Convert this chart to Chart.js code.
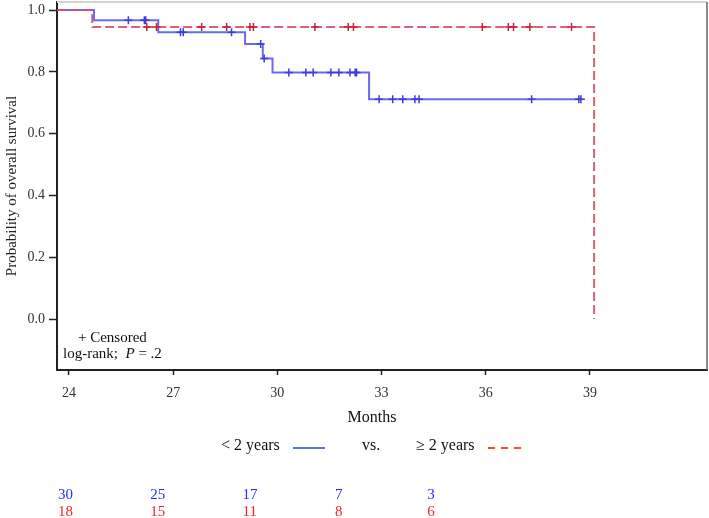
<!DOCTYPE html>
<html>
<head>
<meta charset="utf-8">
<script src="https://cdn.jsdelivr.net/npm/chart.js@4.4.1/dist/chart.umd.min.js"></script>
<style>
  html, body { margin: 0; padding: 0; background: #fff; }
  .container { width: 709px; height: 518px; }
</style>
</head>
<body>
<div class="container"><canvas id="km" width="709" height="518"></canvas></div>
<script>
// Kaplan-Meier steps: time of each drop and survival after it
var lessTimes = [23.66, 24.72, 26.57, 29.07, 29.58, 29.86, 32.64, 38.74];
var lessSurv  = [1.0, 0.967, 0.928, 0.890, 0.843, 0.798, 0.711, 0.711];
var moreTimes = [23.66, 24.67, 39.12, 39.12];
var moreSurv  = [1.0, 0.945, 0.945, 0.0];

// censored times
var lessCensor = [25.71, 26.17, 26.21, 27.21, 27.29, 28.68, 29.52, 29.62,
                  30.33, 30.82, 31.03, 31.54, 31.77, 32.09, 32.24, 32.28,
                  32.93, 33.32, 33.61, 33.96, 34.08, 37.32, 38.68, 38.74];
var moreCensor = [26.24, 26.52, 27.82, 28.54, 29.21, 29.31, 31.08, 32.04,
                  32.19, 35.90, 36.65, 36.80, 37.27, 38.47];

var xTicks = [24, 27, 30, 33, 36, 39];
var yTicks = [0, 0.2, 0.4, 0.6, 0.8, 1.0];

var atRiskLess = [30, 25, 17, 7, 3];
var atRiskMore = [18, 15, 11, 8, 6];

function steps(times, surv) {
    return times.map((t, i) => ({ x: t, y: surv[i] }));
}

// survival level at time t from the step curve
function level(times, surv, t) {
    var s = surv[0];
    for (var i = 0; i < times.length; i++) {
        if (times[i] <= t) s = surv[i];
    }
    return s;
}

function censorPoints(cens, times, surv) {
    return cens.map(t => ({ x: t, y: level(times, surv, t) }));
}

var serif = "'Liberation Serif', 'DejaVu Serif', serif";

function noPad(s) {
    s.paddingTop = 0;
    s.paddingBottom = 0;
    s.paddingLeft = 0;
    s.paddingRight = 0;
}

var overlay = {
    id: 'overlay',
    beforeDatasetsDraw(chart) {
        var ctx = chart.ctx, a = chart.chartArea;
        ctx.save();
        ctx.strokeStyle = '#d4d4d4';
        ctx.lineWidth = 2;
        ctx.beginPath();
        ctx.moveTo(a.left, a.top);
        ctx.lineTo(a.right, a.top);
        ctx.stroke();
        ctx.strokeStyle = '#666';
        ctx.lineWidth = 1.5;
        ctx.beginPath();
        ctx.moveTo(a.right, a.top);
        ctx.lineTo(a.right, a.bottom);
        ctx.stroke();
        ctx.restore();
    },
    afterDraw(chart) {
        var ctx = chart.ctx, a = chart.chartArea;
        ctx.save();
        ctx.textBaseline = 'middle';
        ctx.fillStyle = '#111';

        // censored note and log-rank
        ctx.font = '15px ' + serif;
        ctx.textAlign = 'left';
        ctx.fillText('+ Censored', a.left + 21, 338);
        ctx.fillText('log-rank;', a.left + 6, 354);
        var w = ctx.measureText('log-rank;  ').width;
        ctx.font = 'italic 15px ' + serif;
        ctx.fillText('P', a.left + 6 + w, 354);
        var w2 = ctx.measureText('P').width;
        ctx.font = '15px ' + serif;
        ctx.fillText(' = .2', a.left + 6 + w + w2, 354);

        // x title
        ctx.textAlign = 'center';
        ctx.font = '16px ' + serif;
        ctx.fillText('Months', 372, 418);

        // legend
        ctx.textAlign = 'left';
        ctx.fillText('< 2 years', 221, 446);
        ctx.fillText('vs.', 362, 446);
        ctx.fillText('\u2265 2 years', 416, 446);
        ctx.strokeStyle = '#5577ee';
        ctx.lineWidth = 2;
        ctx.beginPath();
        ctx.moveTo(293, 448);
        ctx.lineTo(325, 448);
        ctx.stroke();
        ctx.strokeStyle = '#ff4444';
        ctx.setLineDash([7, 6]);
        ctx.beginPath();
        ctx.moveTo(488, 448);
        ctx.lineTo(522, 448);
        ctx.stroke();
        ctx.setLineDash([]);

        // numbers at risk
        ctx.font = '15px ' + serif;
        atRiskLess.forEach((n, i) => {
            ctx.fillStyle = '#2a2aff';
            ctx.fillText(String(n), 58 + i * 92.3, 495);
            ctx.fillStyle = '#ff2222';
            ctx.fillText(String(atRiskMore[i]), 58 + i * 92.3, 512);
        });
        ctx.restore();
    }
};

var ctx = document.getElementById('km').getContext('2d');
new Chart(ctx, {
    type: 'scatter',
    data: {
        datasets: [
            {
                label: 'censor >= 2',
                data: censorPoints(moreCensor, moreTimes, moreSurv),
                showLine: false,
                pointStyle: 'cross',
                pointRadius: 4,
                borderColor: '#c8203c',
                borderWidth: 1.5
            },
            {
                label: 'censor < 2',
                data: censorPoints(lessCensor, lessTimes, lessSurv),
                showLine: false,
                pointStyle: 'cross',
                pointRadius: 4,
                borderColor: '#3c3ce0',
                borderWidth: 1.5
            },
            {
                label: '\u2265 2 years',
                data: steps(moreTimes, moreSurv),
                showLine: true,
                stepped: 'before',
                borderColor: 'rgba(214, 80, 104, 0.9)',
                borderWidth: 2,
                borderDash: [9, 4],
                pointRadius: 0,
                fill: false
            },
            {
                label: '< 2 years',
                data: steps(lessTimes, lessSurv),
                showLine: true,
                stepped: 'before',
                borderColor: 'rgba(90, 90, 240, 0.9)',
                borderWidth: 2,
                pointRadius: 0,
                fill: false
            }
        ]
    },
    options: {
        responsive: false,
        animation: false,
        layout: { autoPadding: false, padding: { top: 2, right: 2, left: 0, bottom: 0 } },
        plugins: {
            legend: { display: false },
            tooltip: { enabled: false }
        },
        scales: {
            x: {
                type: 'linear',
                min: 23.655,
                max: 42.37,
                afterBuildTicks: s => { s.ticks = xTicks.map(v => ({ value: v })); },
                afterFit: s => { s.height = 148; noPad(s); },
                grid: { drawOnChartArea: false, tickLength: 5, tickColor: '#222', tickWidth: 1.5 },
                border: { color: '#222', width: 2 },
                ticks: {
                    padding: 10,
                    color: '#333',
                    font: { family: serif, size: 14 },
                    maxRotation: 0,
                    callback: v => String(v)
                }
            },
            y: {
                type: 'linear',
                min: -0.165,
                max: 1.026,
                afterBuildTicks: s => { s.ticks = yTicks.map(v => ({ value: v })); },
                afterFit: s => { s.width = 57; noPad(s); },
                grid: { drawOnChartArea: false, tickLength: 8, tickColor: '#222', tickWidth: 1.5 },
                border: { color: '#222', width: 2 },
                title: {
                    display: true,
                    text: 'Probability of overall survival',
                    color: '#222',
                    font: { family: serif, size: 15 },
                    padding: { top: 3, bottom: 0 }
                },
                ticks: {
                    padding: 4,
                    color: '#333',
                    font: { family: serif, size: 14 },
                    callback: v => v.toFixed(1)
                }
            }
        }
    },
    plugins: [overlay]
});
</script>
</body>
</html>
